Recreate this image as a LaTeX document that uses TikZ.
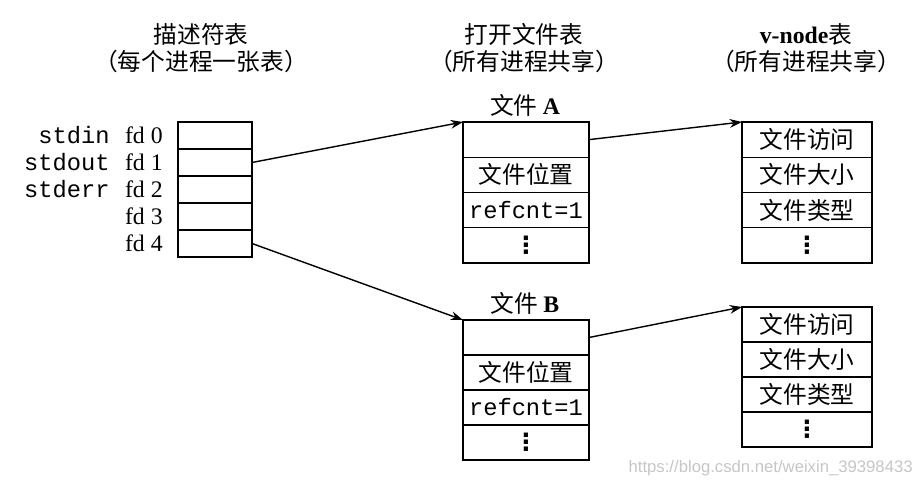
\documentclass[tikz,border=0pt]{standalone}
\usepackage{fontspec}
\setmainfont{Liberation Serif}
\setmonofont{Liberation Mono}
\setsansfont{Liberation Sans}
\newfontfamily\cjk{Noto Sans CJK SC}
\newfontfamily\symfont{DejaVu Sans}
\usetikzlibrary{positioning, arrows.meta}

% three heavy dots for the last row of a table
\newcommand{\moredots}{{\symfont\bfseries ⋮}}

\tikzset{
  fdcell/.style={draw, line width=0.8pt, minimum width=1.48cm, minimum height=0.54cm,
    inner sep=0pt, outer sep=0pt},
  filecell/.style={draw, line width=0.8pt, minimum width=2.52cm, minimum height=0.70cm,
    inner sep=0pt, outer sep=0pt, font=\fontsize{13.5}{16}\selectfont\cjk},
  vcell/.style={filecell, minimum width=2.6cm},
  head/.style={font=\fontsize{13.5}{15.3}\selectfont\cjk, align=center},
  fdlabel/.style={anchor=east, inner sep=0pt, font=\fontsize{13.5}{16}\selectfont},
  ptr/.style={-{Stealth[length=7pt, width=5pt]}, line width=0.8pt}
}

\begin{document}
\begin{tikzpicture}

\useasboundingbox (0,0) rectangle (18.42,-9.74);

% Headers
\node[head] (hfd)   at (4.02,-0.97)  {描述符表\\（每个进程一张表）};
\node[head] (hfile) at (10.48,-0.97) {打开文件表\\（所有进程共享）};
\node[head] (hv)    at (16.12,-0.97) {{\rmfamily\bfseries v-node}表\\（所有进程共享）};

% Descriptor table
\foreach \i in {0,...,4} {
  \node[fdcell] (fd\i) at (4.30,{-2.71-0.54*\i}) {};
  \node[fdlabel] (fdl\i) at (3.26,{-2.71-0.54*\i}) {fd \i};
}
\foreach \s [count=\i from 0] in {stdin, stdout, stderr} {
  \node[fdlabel, font=\fontsize{13.5}{16}\selectfont\ttfamily] (std\i) at (2.2,{-2.71-0.54*\i}) {\s};
}

% Open file table and v-node table
\foreach \f/\ytop/\yv/\h in {A/-2.44/-2.44/0.705, B/-6.40/-6.14/0.70} {
  \node[head] (name\f) at (10.50,\ytop+0.34) {文件 {\rmfamily\bfseries \f}};
  \foreach \t [count=\i from 0] in {{}, 文件位置, {\ttfamily refcnt=1}, {\moredots}} {
    \node[filecell, minimum height=\h cm] (file\f\i) at (10.52,{\ytop-\h/2-\h*\i}) {\t};
  }
  \foreach \t [count=\i from 0] in {文件访问, 文件大小, 文件类型, {\moredots}} {
    \node[vcell, minimum height=\h cm] (v\f\i) at (16.14,{\yv-\h/2-\h*\i}) {\t};
  }
}

% Pointers
\draw[ptr] (fd1.east) -- (fileA0.north west);
\draw[ptr] (fd4.east) -- (fileB0.north west);
\draw[ptr] (fileA0.east) -- (vA0.north west);
\draw[ptr] (fileB0.east) -- (vB0.north west);

% Watermark
\node[gray!45, anchor=east, inner sep=0pt, font=\fontsize{9.5}{11}\selectfont\sffamily] (wm)
  at (18.26,-9.36) {https://blog.csdn.net/weixin\_39398433};

\end{tikzpicture}
\end{document}
